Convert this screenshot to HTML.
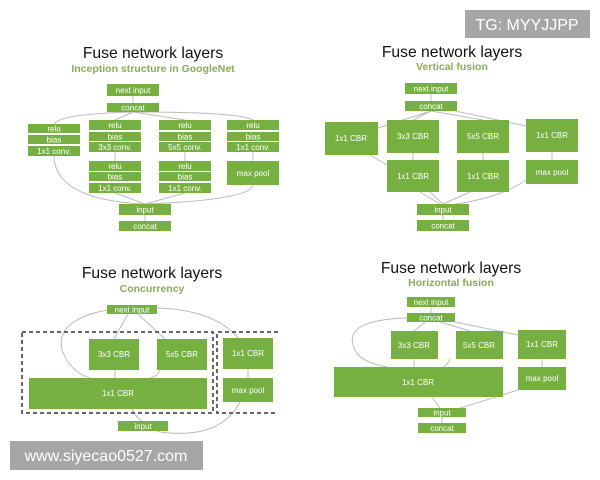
<!DOCTYPE html>
<html><head><meta charset="utf-8"><style>
html,body{margin:0;padding:0;background:#fff;width:600px;height:480px;overflow:hidden}
svg{display:block}
.t{font-family:"Liberation Sans",sans-serif;font-size:15.7px;fill:#111;text-anchor:middle}
.s{font-family:"Liberation Sans",sans-serif;font-size:10.5px;fill:#8aab5a;text-anchor:middle;font-weight:bold}
.b{fill:#76b041;stroke:#fff;stroke-width:0}
.l{font-family:"Liberation Sans",sans-serif;font-size:8px;fill:#fff;text-anchor:middle}
.c{fill:none;stroke:#bbb;stroke-width:1}
</style></head><body>
<svg width="600" height="480" viewBox="0 0 600 480" xmlns="http://www.w3.org/2000/svg">
<!-- Q1 connectors -->
<g class="c">
<line x1="133" y1="96" x2="133" y2="103"/>
<path d="M133 112 Q60 114 54 124"/><path d="M133 112 L115 120"/><path d="M133 112 L185 120"/><path d="M133 112 Q240 112 253 120"/>
<line x1="115" y1="152" x2="115" y2="161"/><line x1="185" y1="152" x2="185" y2="161"/><line x1="253" y1="152" x2="253" y2="161"/>
<path d="M54 156 Q55 200 145 204"/><path d="M115 193 L145 204"/><path d="M185 193 L145 204"/><path d="M253 185 Q250 200 145 204"/>
<line x1="145" y1="215" x2="145" y2="221"/>
</g>
<text class="t" x="153" y="58">Fuse network layers</text>
<text class="s" x="153" y="72">Inception structure in GoogleNet</text>
<g>
<rect class="b" x="107" y="84" width="52" height="12"/><text class="l" x="133" y="93">next input</text>
<rect class="b" x="107" y="103" width="52" height="9"/><text class="l" x="133" y="110.5">concat</text>
<rect class="b" x="28" y="124" width="52" height="9"/><text class="l" x="54" y="131.5">relu</text>
<rect class="b" x="28" y="135" width="52" height="9"/><text class="l" x="54" y="142.5">bias</text>
<rect class="b" x="28" y="146" width="52" height="10"/><text class="l" x="54" y="154">1x1 conv.</text>
<rect class="b" x="89" y="120" width="52" height="10"/><text class="l" x="115" y="128">relu</text>
<rect class="b" x="89" y="132" width="52" height="9"/><text class="l" x="115" y="139.5">bias</text>
<rect class="b" x="89" y="142" width="52" height="10"/><text class="l" x="115" y="150">3x3 conv.</text>
<rect class="b" x="89" y="161" width="52" height="10"/><text class="l" x="115" y="169">relu</text>
<rect class="b" x="89" y="172" width="52" height="9"/><text class="l" x="115" y="179.5">bias</text>
<rect class="b" x="89" y="183" width="52" height="10"/><text class="l" x="115" y="191">1x1 conv.</text>
<rect class="b" x="159" y="120" width="52" height="10"/><text class="l" x="185" y="128">relu</text>
<rect class="b" x="159" y="132" width="52" height="9"/><text class="l" x="185" y="139.5">bias</text>
<rect class="b" x="159" y="142" width="52" height="10"/><text class="l" x="185" y="150">5x5 conv.</text>
<rect class="b" x="159" y="161" width="52" height="10"/><text class="l" x="185" y="169">relu</text>
<rect class="b" x="159" y="172" width="52" height="9"/><text class="l" x="185" y="179.5">bias</text>
<rect class="b" x="159" y="183" width="52" height="10"/><text class="l" x="185" y="191">1x1 conv.</text>
<rect class="b" x="227" y="120" width="52" height="10"/><text class="l" x="253" y="128">relu</text>
<rect class="b" x="227" y="132" width="52" height="9"/><text class="l" x="253" y="139.5">bias</text>
<rect class="b" x="227" y="142" width="52" height="10"/><text class="l" x="253" y="150">1x1 conv.</text>
<rect class="b" x="227" y="161" width="52" height="24"/><text class="l" x="253" y="176">max pool</text>
<rect class="b" x="119" y="204" width="52" height="11"/><text class="l" x="145" y="212.5">input</text>
<rect class="b" x="119" y="221" width="52" height="10"/><text class="l" x="145" y="229">concat</text>
</g>

<!-- Q2 -->
<g class="c">
<line x1="431" y1="94" x2="431" y2="101"/>
<path d="M431 111 L378 128"/><path d="M431 111 L413 120"/><path d="M431 111 L483 120"/><path d="M455 111 L526 126"/>
<line x1="413" y1="153" x2="413" y2="160"/><line x1="483" y1="153" x2="483" y2="160"/><line x1="552" y1="152" x2="552" y2="160"/>
<path d="M370 155 L387 165"/>
<path d="M420 192 L440 204"/><path d="M430 192 L443 204"/><path d="M470 192 L443 204"/><path d="M526 180 Q500 198 455 204"/>
<line x1="443" y1="215" x2="443" y2="220"/>
</g>
<text class="t" x="452" y="57">Fuse network layers</text>
<text class="s" x="452" y="70">Vertical fusion</text>
<g>
<rect class="b" x="405" y="83" width="52" height="11"/><text class="l" x="431" y="91.5">next input</text>
<rect class="b" x="405" y="101" width="52" height="10"/><text class="l" x="431" y="109">concat</text>
<rect class="b" x="325" y="122" width="53" height="33"/><text class="l" x="351" y="141">1x1 CBR</text>
<rect class="b" x="387" y="120" width="52" height="33"/><text class="l" x="413" y="139">3x3 CBR</text>
<rect class="b" x="457" y="120" width="52" height="33"/><text class="l" x="483" y="139">5x5 CBR</text>
<rect class="b" x="526" y="119" width="52" height="33"/><text class="l" x="552" y="138">1x1 CBR</text>
<rect class="b" x="387" y="160" width="52" height="32"/><text class="l" x="413" y="179">1x1 CBR</text>
<rect class="b" x="457" y="160" width="52" height="32"/><text class="l" x="483" y="179">1x1 CBR</text>
<rect class="b" x="526" y="160" width="52" height="24"/><text class="l" x="552" y="175">max pool</text>
<rect class="b" x="417" y="204" width="52" height="11"/><text class="l" x="443" y="212.5">input</text>
<rect class="b" x="417" y="220" width="52" height="11"/><text class="l" x="443" y="228.5">concat</text>
</g>

<!-- Q3 -->
<g class="c">
<path d="M128 314 L114 339"/><path d="M138 314 L165 339"/>
<path d="M107 310 Q55 320 62 350 Q70 372 90 378"/>
<path d="M157 308 Q215 310 238 338"/>
<line x1="115" y1="370" x2="115" y2="378"/><path d="M160 370 Q158 376 150 378"/>
<line x1="248" y1="369" x2="248" y2="378"/>
<path d="M132 409 Q140 425 160 432 Q220 440 240 402"/>
</g>
<text class="t" x="152" y="278">Fuse network layers</text>
<text class="s" x="152" y="292">Concurrency</text>
<g>
<rect x="22" y="332" width="191" height="81" fill="none" stroke="#333" stroke-width="1.5" stroke-dasharray="4,3"/>
<path d="M278 332 H217 V413 H278" fill="none" stroke="#333" stroke-width="1.5" stroke-dasharray="4,3"/>
<rect class="b" x="107" y="305" width="50" height="9"/><text class="l" x="132" y="312.5">next input</text>
<rect class="b" x="89" y="339" width="50" height="31" style="stroke:#333" stroke-width="1.2" stroke-dasharray="3,2"/><text class="l" x="114" y="357">3x3 CBR</text>
<rect class="b" x="157" y="339" width="50" height="31" style="stroke:#333" stroke-width="1.2" stroke-dasharray="3,2"/><text class="l" x="182" y="357">5x5 CBR</text>
<rect class="b" x="29" y="378" width="178" height="31"/><text class="l" x="118" y="396">1x1 CBR</text>
<rect class="b" x="223" y="338" width="50" height="31"/><text class="l" x="248" y="356">1x1 CBR</text>
<rect class="b" x="223" y="378" width="50" height="24"/><text class="l" x="248" y="393">max pool</text>
<rect class="b" x="118" y="421" width="50" height="10"/><text class="l" x="143" y="429">input</text>
</g>

<!-- Q4 -->
<g class="c">
<line x1="431" y1="307" x2="431" y2="313"/>
<path d="M425 322 L414 331"/><path d="M440 322 L470 331"/><path d="M455 322 L518 335"/>
<path d="M407 318 Q340 320 355 350 Q360 362 387 367"/>
<line x1="414" y1="359" x2="414" y2="367"/><path d="M450 359 Q448 365 443 367"/>
<line x1="542" y1="359" x2="542" y2="367"/>
<path d="M432 397 L440 408"/><path d="M518 390 Q480 402 460 408"/>
<line x1="442" y1="417" x2="442" y2="423"/>
</g>
<text class="t" x="451" y="273">Fuse network layers</text>
<text class="s" x="451" y="286">Horizontal fusion</text>
<g>
<rect class="b" x="407" y="297" width="48" height="10"/><text class="l" x="431" y="305">next input</text>
<rect class="b" x="407" y="313" width="48" height="9"/><text class="l" x="431" y="320.5">concat</text>
<rect class="b" x="391" y="331" width="47" height="28"/><text class="l" x="414" y="348">3x3 CBR</text>
<rect class="b" x="456" y="331" width="47" height="28"/><text class="l" x="479" y="348">5x5 CBR</text>
<rect class="b" x="518" y="330" width="48" height="29"/><text class="l" x="542" y="347">1x1 CBR</text>
<rect class="b" x="334" y="367" width="169" height="30"/><text class="l" x="418" y="385">1x1 CBR</text>
<rect class="b" x="518" y="367" width="48" height="23"/><text class="l" x="542" y="381">max pool</text>
<rect class="b" x="418" y="408" width="48" height="9"/><text class="l" x="442" y="415.5">input</text>
<rect class="b" x="418" y="423" width="48" height="10"/><text class="l" x="442" y="431">concat</text>
</g>

<!-- watermarks -->
<rect x="465" y="10" width="125" height="28" fill="#a6a6a6"/>
<text x="527" y="30" font-family="Liberation Sans,sans-serif" font-size="16" fill="#fff" text-anchor="middle">TG: MYYJJPP</text>
<rect x="10" y="441" width="193" height="29" fill="#a6a6a6"/>
<text x="106" y="461" font-family="Liberation Sans,sans-serif" font-size="16" fill="#fff" text-anchor="middle">www.siyecao0527.com</text>
</svg>
</body></html>
